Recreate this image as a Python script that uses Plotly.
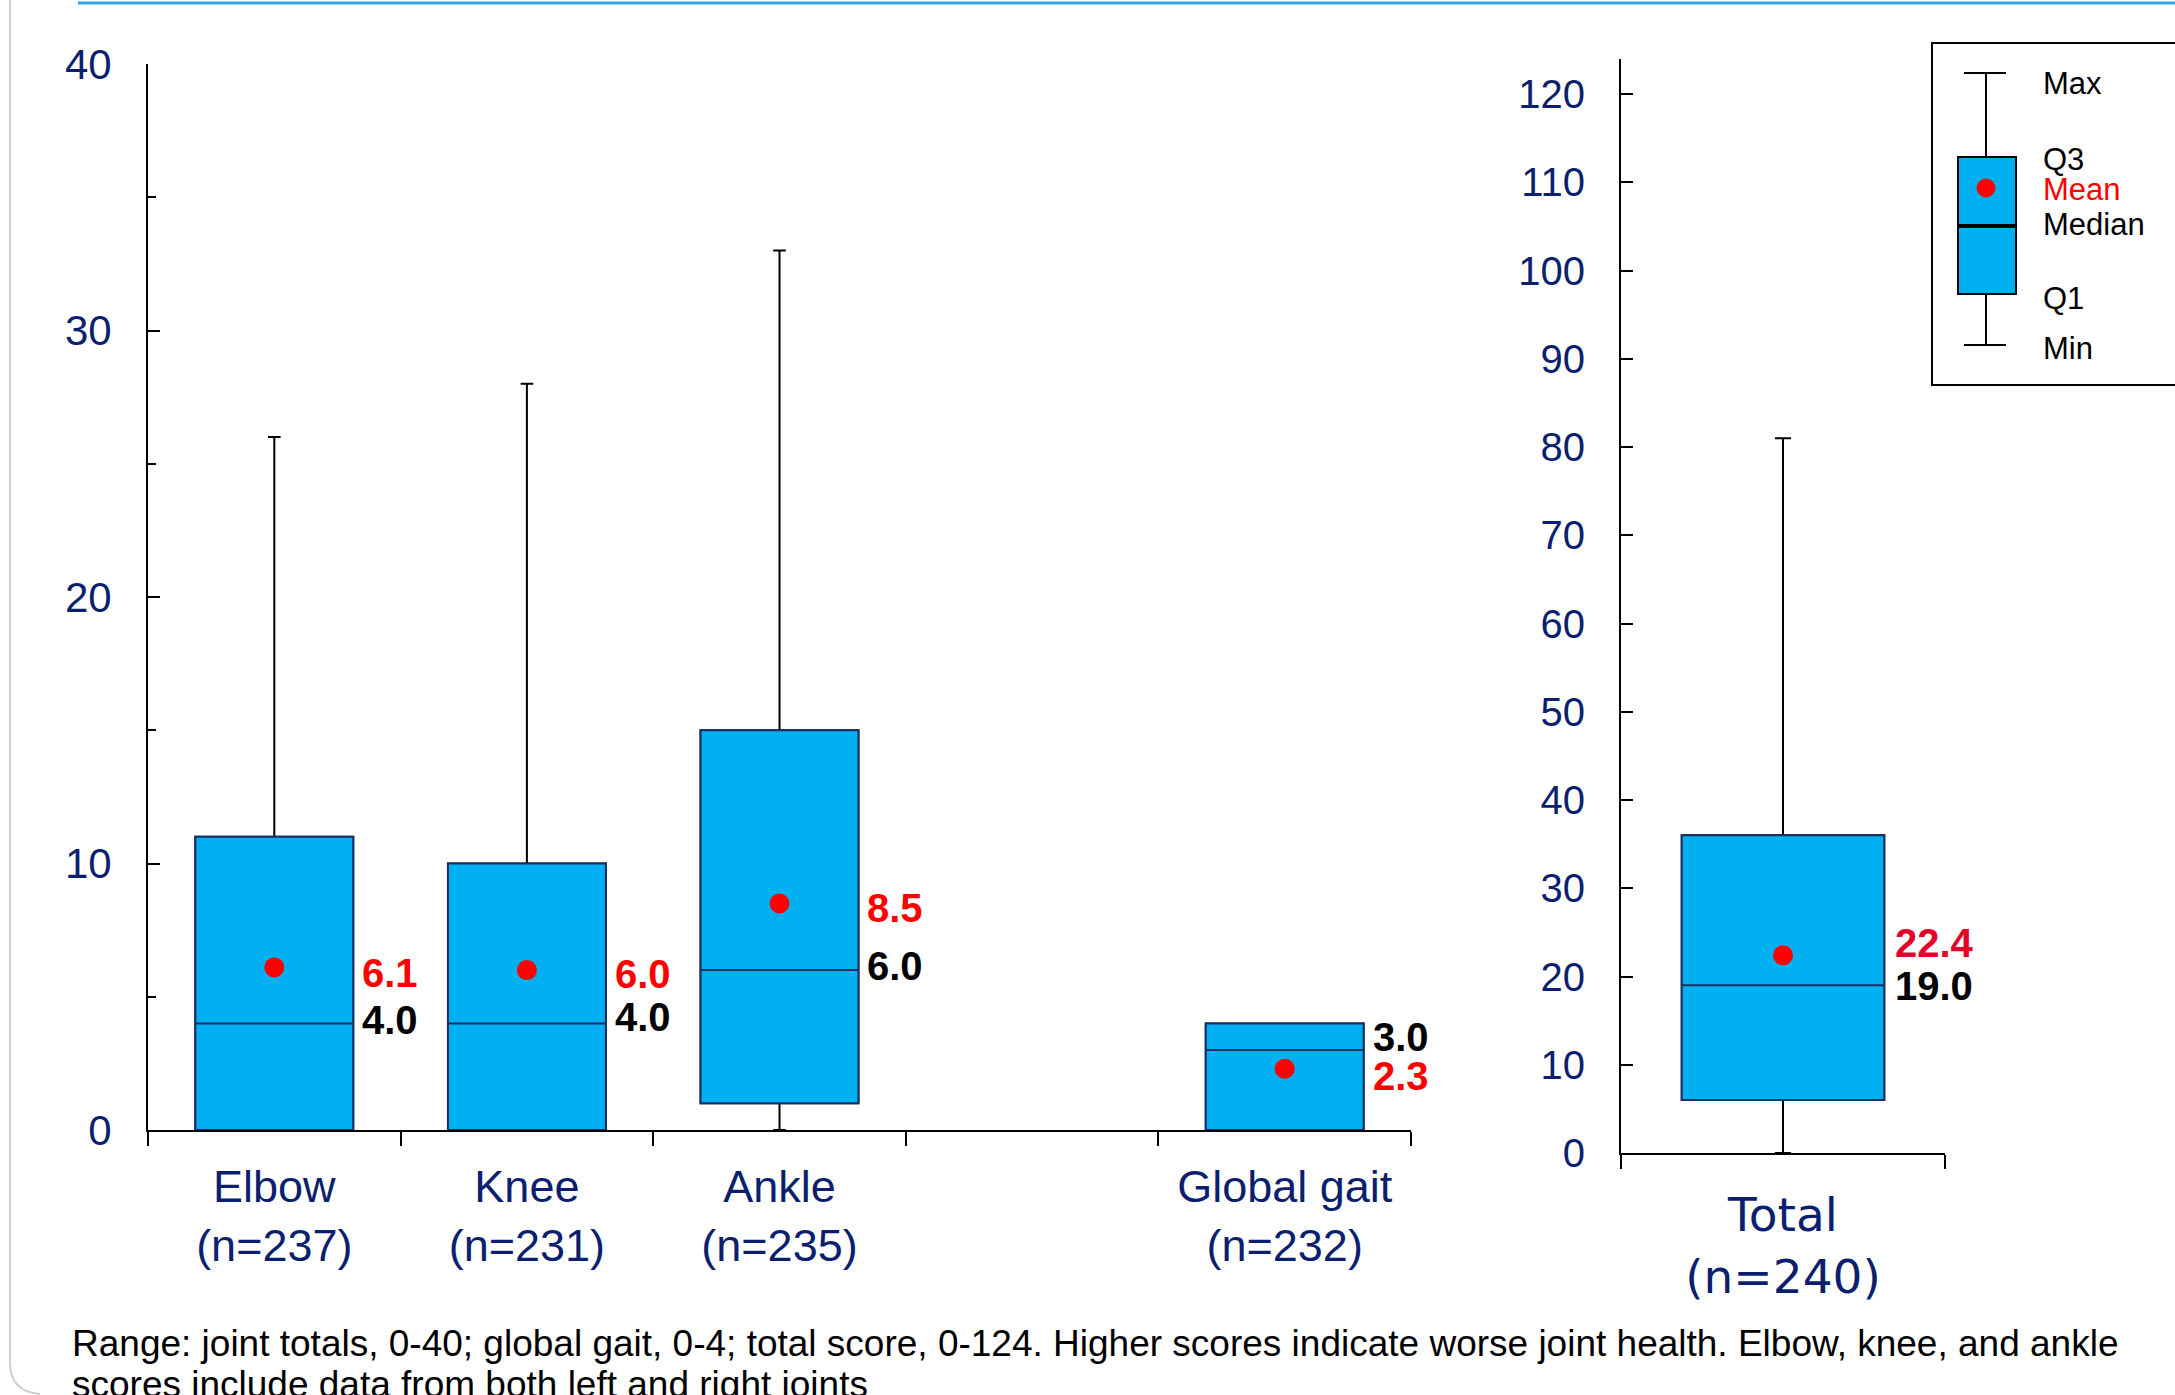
import plotly.graph_objects as go

W, H = 2175, 1395

# ---------------- data ----------------
joints = ["Elbow", "Knee", "Ankle", "Global gait"]
joint_n = [237, 231, 235, 232]
joint_slot = [0, 1, 2, 4]          # category slots; slot 3 is an empty gap
joint_min = [0, 0, 0, 0]
joint_q1 = [0, 0, 1, 0]
joint_median = [4.0, 4.0, 6.0, 3.0]
joint_q3 = [11, 10, 15, 4]
joint_max = [26, 28, 33, 4]
joint_mean = [6.1, 6.0, 8.5, 2.3]

total_cat = ["Total"]
total_n = [240]
total_min = [0]
total_q1 = [6]
total_median = [19.0]
total_q3 = [36]
total_max = [81]
total_mean = [22.4]

left_yticks = [0, 10, 20, 30, 40]
left_yminor = [5, 15, 25, 35]
right_yticks = [0, 10, 20, 30, 40, 50, 60, 70, 80, 90, 100, 110, 120]

caption_lines = ["Range: joint totals, 0-40; global gait, 0-4; total score, 0-124. Higher scores indicate "
                 "worse joint health. Elbow, knee, and ankle",
                 "scores include data from both left and right joints"]

# ---------------- styles ----------------
NAVY = "#0B1F6E"
FILL = "#00B0F0"
BOXLINE = "#1B2F66"
RED = "#FF0000"
FONT = "Liberation Sans, Arial, sans-serif"

def px(x):
    return x / W

def py(y):
    return 1 - y / H

BOXW = 0.625

# ---------------- figure ----------------
fig = go.Figure()

def add_boxes(xs, q1, med, q3, lo, hi, xa, ya):
    # whiskers (black)
    fig.add_trace(go.Box(x=xs, q1=q1, median=med, q3=q3, lowerfence=lo, upperfence=hi,
                         width=BOXW, whiskerwidth=0.08, fillcolor=FILL,
                         line=dict(color="black", width=2), boxpoints=False,
                         hoverinfo="skip", xaxis=xa, yaxis=ya, showlegend=False))
    # box outline + median (navy)
    fig.add_trace(go.Box(x=xs, q1=q1, median=med, q3=q3, lowerfence=q1, upperfence=q3,
                         width=BOXW, whiskerwidth=0, fillcolor=FILL,
                         line=dict(color=BOXLINE, width=2), boxpoints=False,
                         hoverinfo="skip", xaxis=xa, yaxis=ya, showlegend=False))

add_boxes(joint_slot, joint_q1, joint_median, joint_q3, joint_min, joint_max, "x", "y")
add_boxes([0], total_q1, total_median, total_q3, total_min, total_max, "x2", "y2")

fig.add_trace(go.Scatter(x=joint_slot, y=joint_mean, mode="markers",
                         marker=dict(color=RED, size=20), xaxis="x", yaxis="y",
                         hoverinfo="skip", showlegend=False))
fig.add_trace(go.Scatter(x=[0], y=total_mean, mode="markers",
                         marker=dict(color=RED, size=20), xaxis="x2", yaxis="y2",
                         hoverinfo="skip", showlegend=False))

# ---------------- axes ----------------
L_X0, L_X1 = 148, 1411
L_Y0, L_Y40 = 1130, 64
R_X0, R_X1 = 1621, 1945
R_Y0, R_Y120 = 1153, 94
R_TOP = R_Y0 - 124 * (R_Y0 - R_Y120) / 120

axis_common = dict(showgrid=False, zeroline=False, showline=True, linecolor="black",
                   linewidth=2, fixedrange=True, automargin=False)

fig.update_layout(
    width=W, height=H, margin=dict(l=0, r=0, t=0, b=0, autoexpand=False),
    paper_bgcolor="white", plot_bgcolor="rgba(0,0,0,0)",
    showlegend=False, boxmode="overlay",
    xaxis=dict(domain=[px(L_X0), px(L_X1)], range=[-0.5, 4.5], anchor="y",
               tickmode="array", tickvals=joint_slot,
               ticktext=[f"{j}<br>(n={n})" for j, n in zip(joints, joint_n)],
               ticks="", tickfont=dict(family=FONT, size=45, color=NAVY),
               ticklabelstandoff=16,
               minor=dict(tickmode="array", tickvals=[s - 0.5 for s in range(6)],
                          ticks="outside", ticklen=14, tickwidth=2, tickcolor="black",
                          showgrid=False),
               **axis_common),
    yaxis=dict(domain=[py(L_Y0), py(L_Y40)], range=[0, 40], anchor="x",
               tickmode="array", tickvals=left_yticks,
               ticks="inside", ticklen=12, tickwidth=2, tickcolor="black",
               tickfont=dict(family=FONT, size=42, color=NAVY), ticklabelstandoff=26,
               minor=dict(tickmode="array", tickvals=left_yminor, ticks="inside",
                          ticklen=8, tickwidth=2, tickcolor="black", showgrid=False),
               **axis_common),
    xaxis2=dict(domain=[px(R_X0), px(R_X1)], range=[-0.5, 0.5], anchor="y2",
                tickmode="array", tickvals=[0],
                ticktext=[f"{c}<br>(n={n})" for c, n in zip(total_cat, total_n)],
                ticks="", tickfont=dict(family="DejaVu Sans, sans-serif", size=47, color=NAVY),
                ticklabelstandoff=20,
                minor=dict(tickmode="array", tickvals=[-0.5, 0.5], ticks="outside",
                           ticklen=14, tickwidth=2, tickcolor="black", showgrid=False),
                **axis_common),
    yaxis2=dict(domain=[py(R_Y0), py(R_TOP)], range=[0, 124], anchor="x2",
                tickmode="array", tickvals=right_yticks,
                ticks="inside", ticklen=12, tickwidth=2, tickcolor="black",
                tickfont=dict(family=FONT, size=40, color=NAVY), ticklabelstandoff=26,
                **axis_common),
)

# ---------------- value labels ----------------
left_unit = (L_X1 - L_X0) / 5
right_unit = (R_X1 - R_X0) / 1
l_shift = BOXW / 2 * left_unit + 7
r_shift = BOXW / 2 * right_unit + 9

mean_yshift = [-6, -4, -5, -7]
median_yshift = [3, 6, 4, 13]

annotations = []
for s, m, md, ms, mds in zip(joint_slot, joint_mean, joint_median, mean_yshift, median_yshift):
    annotations.append(dict(x=s, y=m, xref="x", yref="y", text=f"<b>{m:.1f}</b>",
                            showarrow=False, xanchor="left", yanchor="middle",
                            xshift=l_shift, yshift=ms,
                            font=dict(family=FONT, size=40, color=RED)))
    annotations.append(dict(x=s, y=md, xref="x", yref="y", text=f"<b>{md:.1f}</b>",
                            showarrow=False, xanchor="left", yanchor="middle",
                            xshift=l_shift, yshift=mds,
                            font=dict(family=FONT, size=40, color="black")))

annotations.append(dict(x=0, y=total_mean[0], xref="x2", yref="y2", text=f"<b>{total_mean[0]:.1f}</b>",
                        showarrow=False, xanchor="left", yanchor="middle",
                        xshift=r_shift, yshift=12,
                        font=dict(family=FONT, size=40, color="#E4002B")))
annotations.append(dict(x=0, y=total_median[0], xref="x2", yref="y2", text=f"<b>{total_median[0]:.1f}</b>",
                        showarrow=False, xanchor="left", yanchor="middle",
                        xshift=r_shift, yshift=-1,
                        font=dict(family=FONT, size=40, color="black")))

# ---------------- legend (drawn) + frame ----------------
shapes = []
shapes.append(dict(type="line", xref="paper", yref="paper", x0=px(78), x1=px(W + 5),
                   y0=py(3), y1=py(3), line=dict(color="#2BA6DE", width=3), layer="below"))
shapes.append(dict(type="path", xref="paper", yref="paper",
                   path=f"M {px(10)},{py(-5)} L {px(10)},{py(1362)} Q {px(10)},{py(1392)} {px(40)},{py(1394)}",
                   line=dict(color="#CFCFCF", width=2), layer="below"))

shapes.append(dict(type="rect", xref="paper", yref="paper", x0=px(1932), x1=px(W + 20),
                   y0=py(385), y1=py(43), line=dict(color="black", width=2),
                   fillcolor="rgba(0,0,0,0)"))
LC = 1986
shapes.append(dict(type="line", xref="paper", yref="paper", x0=px(1964), x1=px(2006),
                   y0=py(73), y1=py(73), line=dict(color="black", width=2)))
shapes.append(dict(type="line", xref="paper", yref="paper", x0=px(LC), x1=px(LC),
                   y0=py(73), y1=py(157), line=dict(color="black", width=2)))
shapes.append(dict(type="line", xref="paper", yref="paper", x0=px(1964), x1=px(2006),
                   y0=py(345), y1=py(345), line=dict(color="black", width=2)))
shapes.append(dict(type="line", xref="paper", yref="paper", x0=px(LC), x1=px(LC),
                   y0=py(294), y1=py(345), line=dict(color="black", width=2)))
shapes.append(dict(type="rect", xref="paper", yref="paper", x0=px(1958), x1=px(2016),
                   y0=py(294), y1=py(157), fillcolor=FILL, line=dict(color="black", width=2)))
shapes.append(dict(type="line", xref="paper", yref="paper", x0=px(1958), x1=px(2016),
                   y0=py(226), y1=py(226), line=dict(color="black", width=4)))
shapes.append(dict(type="circle", xref="paper", yref="paper", x0=px(LC - 9), x1=px(LC + 9),
                   y0=py(197), y1=py(179), fillcolor=RED, line=dict(color=RED, width=1)))

legend_items = [("Max", 83, "black"), ("Q3", 160, "black"), ("Mean", 190, RED),
                ("Median", 225, "black"), ("Q1", 298, "black"), ("Min", 348, "black")]
for txt, yy, col in legend_items:
    annotations.append(dict(x=px(2041), y=py(yy), xref="paper", yref="paper", text=txt,
                            showarrow=False, xanchor="left", yanchor="middle",
                            font=dict(family=FONT, size=31, color=col)))

for line_text, yy in zip(caption_lines, [1343, 1384]):
    annotations.append(dict(x=px(70), y=py(yy), xref="paper", yref="paper", text=line_text,
                            showarrow=False, xanchor="left", yanchor="middle", align="left",
                            font=dict(family=FONT, size=37, color="black")))

fig.update_layout(shapes=shapes, annotations=annotations)

fig.write_html("out.html", config={"displayModeBar": False},
               post_script="document.body.style.margin='0px';")
